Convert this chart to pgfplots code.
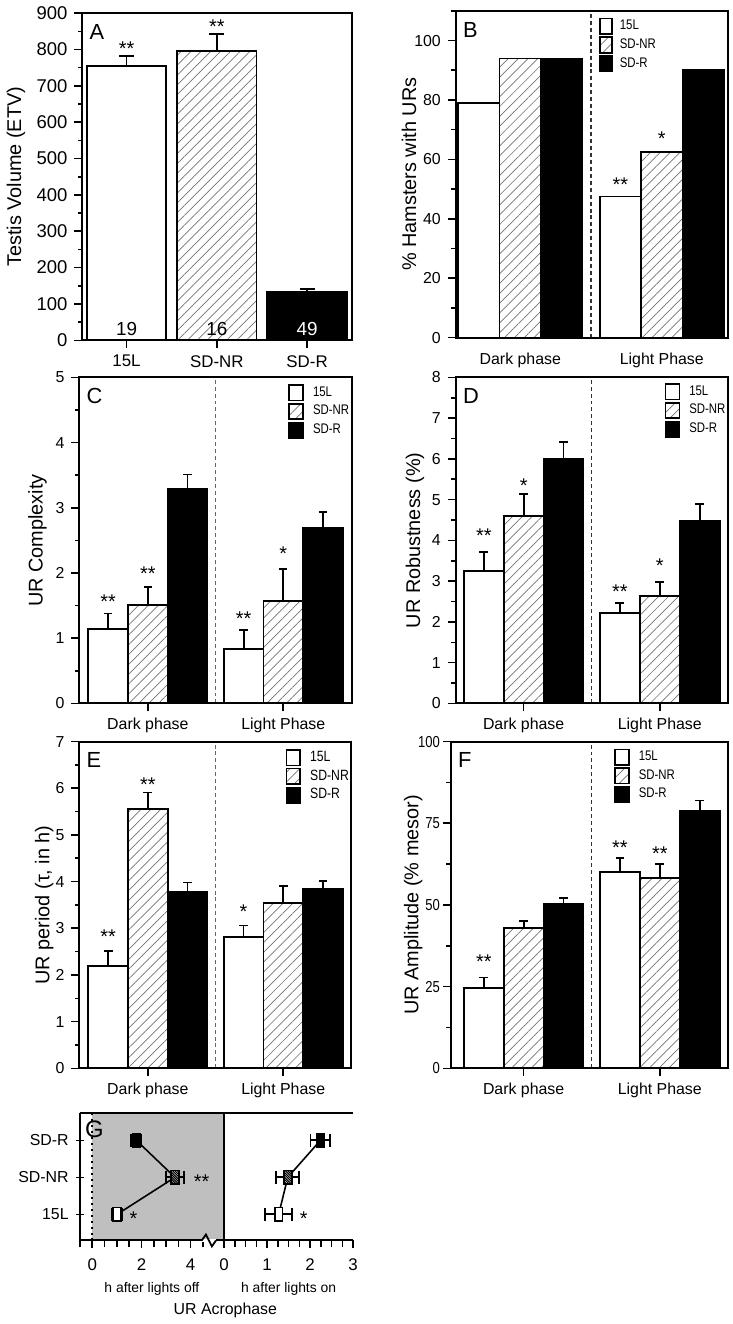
\documentclass[border=0pt]{standalone}
\usepackage{fontspec}
\setmainfont{Liberation Sans}
\newfontfamily\narrow[FakeStretch=0.82]{Liberation Sans}
\usepackage{pgfplots}
\pgfplotsset{compat=1.18}
\usetikzlibrary{patterns.meta}

\pgfdeclareplotmark{vrect}{%
  \pgfpathrectangle{\pgfqpoint{-2pt}{-3.5pt}}{\pgfqpoint{4pt}{7pt}}%
  \pgfusepathqfillstroke}
\pgfdeclareplotmark{hrect}{%
  \pgfpathrectangle{\pgfqpoint{-2pt}{-3.5pt}}{\pgfqpoint{4pt}{7pt}}%
  \pgfsetfillcolor{white}\pgfusepathqfill
  \begin{pgfscope}
  \pgfpathrectangle{\pgfqpoint{-2pt}{-3.5pt}}{\pgfqpoint{4pt}{7pt}}\pgfusepathqclip
  \pgfsetlinewidth{0.55pt}%
  \foreach \c in {-6.3,-5.1,...,6.3}{%
    \pgfpathmoveto{\pgfpoint{-3pt}{3pt+\c pt}}%
    \pgfpathlineto{\pgfpoint{3pt}{-3pt+\c pt}}%
    \pgfusepathqstroke}%
  \end{pgfscope}
  \pgfpathrectangle{\pgfqpoint{-2pt}{-3.5pt}}{\pgfqpoint{4pt}{7pt}}%
  \pgfusepathqstroke}

\tikzset{
  starlbl/.style={font=\fontsize{10}{10}\selectfont, anchor=center, yshift=-2.1pt, inner sep=0pt},
  plab/.style={font=\fontsize{11}{11}\selectfont, anchor=north west, inner sep=0pt, xshift=3.5pt, yshift=-5.5pt},
}

\pgfplotsset{
  panel/.style={
    scale only axis, anchor=north west, clip=false, axis on top,
    axis line style={line width=1pt},
    tick align=outside, xtick pos=bottom, ytick pos=left,
    major tick style={black, line width=0.8pt},
    minor tick style={black, line width=0.8pt},
    major tick length=4pt, minor tick length=2.2pt,
    tick label style={font=\fontsize{8}{9.6}\selectfont},
    ylabel style={font=\fontsize{9}{10.8}\selectfont},
    /pgf/number format/assume math mode=true,
    ymin=0,
  },
  lgd/.style={legend image code/.code={\draw[##1, line width=0.8pt] (0pt,-3.9pt) rectangle (7pt,3.9pt);}},
  lgdB/.style={legend image code/.code={\draw[##1, line width=0.8pt] (0pt,-3.9pt) rectangle (6pt,3.9pt);}},
  b15/.style={fill=white, draw=black, line width=0.9pt, bar shift=-0.293, lgd},
  bnr/.style={draw=black, line width=0.9pt, pattern={Lines[angle=45,distance=3.5pt,line width=0.35pt]}, pattern color=black!55, bar shift=0, lgd},
  bsr/.style={fill=black, draw=black, line width=0.9pt, bar shift=0.293, lgd},
  eb/.style={error bars/y dir=plus, error bars/y explicit,
    error bars/error bar style={black, line width=0.9pt, solid},
    error bars/error mark options={black, line width=0.9pt, rotate=90, mark size=#1}},
  ebx/.style={error bars/x dir=both, error bars/x explicit,
    error bars/error bar style={black, line width=0.9pt},
    error bars/error mark options={black, line width=0.9pt, rotate=90, mark size=3.2pt}},
  grouped/.style={panel, ybar, bar width=0.293, xtick={0,1},
    xticklabels={Dark phase,Light Phase}, legend cell align=left,
    legend style={draw=none, fill=none, inner sep=0pt, anchor=north west,
      nodes={inner sep=0.6pt},
      font=\narrow\fontsize{7}{8}\selectfont, row sep=0.8pt, column sep=4pt}},
}

\begin{document}
\begin{tikzpicture}
\path (0,0) rectangle (367.5pt,-662pt);

% ---------------- A
\begin{axis}[panel, at={(40pt,-4.15pt)}, width=136pt, height=164.7pt,
  ybar, bar width=0.88, xmin=-0.49, xmax=2.503, ymax=900,
  xtick={0,1,2}, xticklabels={15L,SD-NR,SD-R}, major x tick style={line width=0.8pt},
  x tick label style={font=\fontsize{8.5}{10}\selectfont},
  y tick label style={font=\fontsize{9.3}{11}\selectfont},
  ytick={0,100,...,900}, minor ytick={50,150,...,850},
  ylabel={Testis Volume (ETV)}, ylabel style={font=\fontsize{10.5}{12}\selectfont},
  every axis y label/.style={at={(axis description cs:-0.246,0.5)}, rotate=90, anchor=center}]
\addplot[fill=white, draw=black, line width=0.9pt, bar shift=0, eb=3.75pt] coordinates {(0,755) +- (0,28)};
\addplot[draw=black, line width=0.9pt, pattern={Lines[angle=45,distance=3.5pt,line width=0.35pt]}, pattern color=black!55, bar shift=0, eb=3.75pt] coordinates {(1,797) +- (0,46)};
\addplot[fill=black, draw=black, line width=0.9pt, bar shift=0, eb=3.75pt] coordinates {(2,133) +- (0,8)};
\node[starlbl] at (axis cs:0,815) {**};
\node[starlbl] at (axis cs:1,873) {**};
\node[font=\fontsize{9.5}{9.5}\selectfont] at (axis cs:0,31) {19};
\node[font=\fontsize{9.5}{9.5}\selectfont] at (axis cs:1,31) {16};
\node[font=\fontsize{9.5}{9.5}\selectfont, text=white] at (axis cs:2,31) {49};
\node[plab] at (rel axis cs:0,1) {A};
\end{axis}

% ---------------- B
\begin{axis}[grouped, at={(228pt,-3pt)}, width=137pt, height=164.5pt,
  xmin=-0.456, xmax=1.467, ymax=110, major x tick style={draw=none},
  ytick={0,20,...,100}, minor ytick={10,30,...,110},
  ylabel={\% Hamsters with URs},
  every axis y label/.style={at={(axis description cs:-0.1715,0.5)}, rotate=90, anchor=center},
  legend style={at={(0.5255,0.98)}, column sep=3pt}]
\addplot[b15, lgdB] coordinates {(0,79) (1,47.5)};
\addplot[bnr, lgdB] coordinates {(0,94) (1,62.5)};
\addplot[bsr, lgdB] coordinates {(0,94) (1,90)};
\legend{15L,SD-NR,SD-R}
\draw[black!80, line width=0.6pt, dash pattern=on 2pt off 1.5pt] (axis cs:0.5,0) -- (axis cs:0.5,110);
\node[starlbl] at (axis cs:0.707,52.9) {**};
\node[starlbl] at (axis cs:1,68.3) {*};
\node[plab] at (rel axis cs:0,1) {B};
\end{axis}

% ---------------- C
\begin{axis}[grouped, at={(38.5pt,-187.5pt)}, width=137.5pt, height=164.15pt,
  xmin=-0.506, xmax=1.511, ymax=5,
  ytick={0,1,...,5}, minor ytick={0.5,1.5,...,4.5},
  ylabel={UR Complexity},
  every axis y label/.style={at={(axis description cs:-0.153,0.5)}, rotate=90, anchor=center},
  legend style={at={(0.764,0.98)}}]
\addplot[b15, eb=2.1pt] coordinates {(0,1.14) +- (0,0.24) (1,0.83) +- (0,0.30)};
\addplot[bnr, eb=2.1pt] coordinates {(0,1.51) +- (0,0.28) (1,1.57) +- (0,0.49)};
\addplot[bsr, eb=2.1pt] coordinates {(0,3.29) +- (0,0.22) (1,2.69) +- (0,0.25)};
\legend{15L,SD-NR,SD-R}
\draw[black!60, line width=0.6pt, dash pattern=on 2pt off 1.5pt] (axis cs:0.5,0) -- (axis cs:0.5,5);
\node[starlbl] at (axis cs:-0.293,1.62) {**};
\node[starlbl] at (axis cs:0,2.06) {**};
\node[starlbl] at (axis cs:0.707,1.37) {**};
\node[starlbl] at (axis cs:1,2.36) {*};
\node[plab] at (rel axis cs:0,1) {C};
\end{axis}

% ---------------- D
\begin{axis}[grouped, at={(228pt,-187.5pt)}, width=137pt, height=164.15pt,
  xmin=-0.4985, xmax=1.5, ymax=8,
  ytick={0,1,...,8}, minor ytick={0.5,1.5,...,7.5},
  ylabel={UR Robustness (\%)},
  every axis y label/.style={at={(axis description cs:-0.150,0.5)}, rotate=90, anchor=center},
  legend style={at={(0.766,0.983)}}]
\addplot[b15, eb=2.25pt] coordinates {(0,3.25) +- (0,0.46) (1,2.21) +- (0,0.25)};
\addplot[bnr, eb=2.25pt] coordinates {(0,4.59) +- (0,0.54) (1,2.63) +- (0,0.34)};
\addplot[bsr, eb=2.25pt] coordinates {(0,6.01) +- (0,0.41) (1,4.47) +- (0,0.42)};
\legend{15L,SD-NR,SD-R}
\draw[black!80, line width=0.6pt, dash pattern=on 2pt off 1.5pt] (axis cs:0.5,0) -- (axis cs:0.5,8);
\node[starlbl] at (axis cs:-0.293,4.22) {**};
\node[starlbl] at (axis cs:0,5.44) {*};
\node[starlbl] at (axis cs:0.707,2.84) {**};
\node[starlbl] at (axis cs:1,3.49) {*};
\node[plab] at (rel axis cs:0,1) {D};
\end{axis}

% ---------------- E
\begin{axis}[grouped, at={(38.5pt,-370.85pt)}, width=136.85pt, height=164.5pt,
  xmin=-0.506, xmax=1.502, ymax=7,
  ytick={0,1,...,7}, minor ytick={0.5,1.5,...,6.5},
  ylabel={UR period (τ, in h)},
  every axis y label/.style={at={(axis description cs:-0.129,0.5)}, rotate=90, anchor=center},
  legend style={at={(0.757,0.978)}, font=\narrow\fontsize{7.5}{8}\selectfont}]
\addplot[b15, eb=2.2pt] coordinates {(0,2.20) +- (0,0.32) (1,2.81) +- (0,0.25)};
\addplot[bnr, eb=2.2pt] coordinates {(0,5.55) +- (0,0.36) (1,3.54) +- (0,0.36)};
\addplot[bsr, eb=2.2pt] coordinates {(0,3.77) +- (0,0.21) (1,3.84) +- (0,0.17)};
\legend{15L,SD-NR,SD-R}
\draw[black!60, line width=0.6pt, dash pattern=on 2pt off 1.5pt] (axis cs:0.5,0) -- (axis cs:0.5,7);
\node[starlbl] at (axis cs:-0.293,2.92) {**};
\node[starlbl] at (axis cs:0,6.16) {**};
\node[starlbl] at (axis cs:0.707,3.45) {*};
\node[plab] at (rel axis cs:0,1) {E};
\end{axis}

% ---------------- F
\begin{axis}[grouped, at={(225.5pt,-370.85pt)}, width=139.5pt, height=164.5pt,
  xmin=-0.535, xmax=1.5, ymax=100,
  ytick={0,25,50,75,100}, minor ytick={12.5,37.5,62.5,87.5},
  major y tick style={line width=0.8pt},
  y tick label style={font=\narrow\fontsize{8}{9.6}\selectfont, xshift=2pt},
  ylabel={UR Amplitude (\% mesor)},
  every axis y label/.style={at={(axis description cs:-0.136,0.5)}, rotate=90, anchor=center},
  legend style={at={(0.588,0.98)}}]
\addplot[b15, eb=2.2pt] coordinates {(0,24.5) +- (0,3.3) (1,60.0) +- (0,4.3)};
\addplot[bnr, eb=2.2pt] coordinates {(0,42.9) +- (0,2.1) (1,58.3) +- (0,4.3)};
\addplot[bsr, eb=2.2pt] coordinates {(0,50.2) +- (0,2.0) (1,78.7) +- (0,3.3)};
\legend{15L,SD-NR,SD-R}
\draw[black!80, line width=0.6pt, dash pattern=on 2pt off 1.5pt] (axis cs:0.5,0) -- (axis cs:0.5,100);
\node[starlbl] at (axis cs:-0.293,33.9) {**};
\node[starlbl] at (axis cs:0.707,68.9) {**};
\node[starlbl] at (axis cs:1,66.9) {**};
\node[plab] at (rel axis cs:0,1) {F};
\end{axis}

% ---------------- G (left: dark)
\begin{axis}[panel, at={(38.65pt,-558pt)}, width=72.7pt, height=64pt,
  axis x line=box, axis y line=left, axis line style={line width=1pt, -},
  xmin=-0.513, xmax=5.357, ymin=0.293, ymax=3.73,
  xtick={0,2,4}, minor xtick={-0.5,0.5,1,1.5,2.5,3,3.5,4.5},
  minor tick length=3.5pt,
  x tick label style={font=\fontsize{8.5}{10}\selectfont, yshift=-1.5pt},
  ytick={1,2,3}, yticklabels={15L,SD-NR,SD-R},
  xlabel={h after lights off}, xlabel style={font=\fontsize{7}{8}\selectfont, yshift=1pt}]
\addplot[fill=black!25, draw=none] coordinates {(0,0.293) (0,3.73) (5.357,3.73) (5.357,0.293)} -- cycle;
\addplot[black, line width=1pt, dotted] coordinates {(0,0.293) (0,3.73)};
\addplot[black, line width=1pt, dotted] coordinates {(5.357,0.293) (5.357,3.73)};
\addplot[black, line width=0.8pt] coordinates {(1.01,1) (3.36,2) (1.79,3)};
\addplot[only marks, mark=vrect, mark options={fill=white, draw=black, line width=0.8pt}, ebx] coordinates {(1.01,1) +- (0.2,0)};
\addplot[only marks, mark=hrect, mark options={draw=black, line width=0.8pt}, ebx] coordinates {(3.36,2) +- (0.36,0)};
\addplot[only marks, mark=vrect, mark options={fill=black, draw=black, line width=0.8pt}, ebx] coordinates {(1.79,3) +- (0.2,0)};
\node[starlbl] at (axis cs:4.44,2) {**};
\node[starlbl] at (axis cs:1.68,1) {*};
\node[plab, font=\fontsize{12}{12}\selectfont, xshift=-1pt, yshift=2pt] at (rel axis cs:0,1) {G};
\coordinate (bA) at (axis cs:4.45,0.293);
\coordinate (bB) at (axis cs:4.62,0.293);
\coordinate (bC) at (axis cs:4.86,0.293);
\coordinate (bD) at (axis cs:5.03,0.293);
\end{axis}
\fill[white] ([yshift=-0.7pt]bA) rectangle ([yshift=0.7pt]bD);
\draw[line width=0.9pt] (bA) -- ([yshift=3pt]bB) -- ([yshift=-3pt]bC) -- (bD);

% ---------------- G (right: light)
\begin{axis}[panel, at={(111.35pt,-558pt)}, width=65pt, height=64pt,
  axis x line=box, axis y line=right, axis line style={line width=1pt, -},
  xmin=0, xmax=3, ymin=0.293, ymax=3.73,
  xtick={0,1,2,3}, minor xtick={0.25,0.5,0.75,1.25,1.5,1.75,2.25,2.5,2.75},
  minor tick length=3.5pt, ytick=\empty,
  x tick label style={font=\fontsize{8.5}{10}\selectfont, yshift=-1.5pt},
  xlabel={h after lights on}, xlabel style={font=\fontsize{7}{8}\selectfont, yshift=1pt}]
\addplot[black, line width=0.8pt] coordinates {(1.27,1) (1.48,2) (2.24,3)};
\addplot[only marks, mark=vrect, mark options={fill=white, draw=black, line width=0.8pt}, ebx] coordinates {(1.27,1) +- (0.31,0)};
\addplot[only marks, mark=hrect, mark options={draw=black, line width=0.8pt}, ebx] coordinates {(1.48,2) +- (0.27,0)};
\addplot[only marks, mark=vrect, mark options={fill=black, draw=black, line width=0.8pt}, ebx] coordinates {(2.24,3) +- (0.23,0)};
\node[starlbl] at (axis cs:1.85,1) {*};
\end{axis}
\node[font=\fontsize{8}{9.6}\selectfont] at (112pt,-657pt) {UR Acrophase};
\end{tikzpicture}
\end{document}
